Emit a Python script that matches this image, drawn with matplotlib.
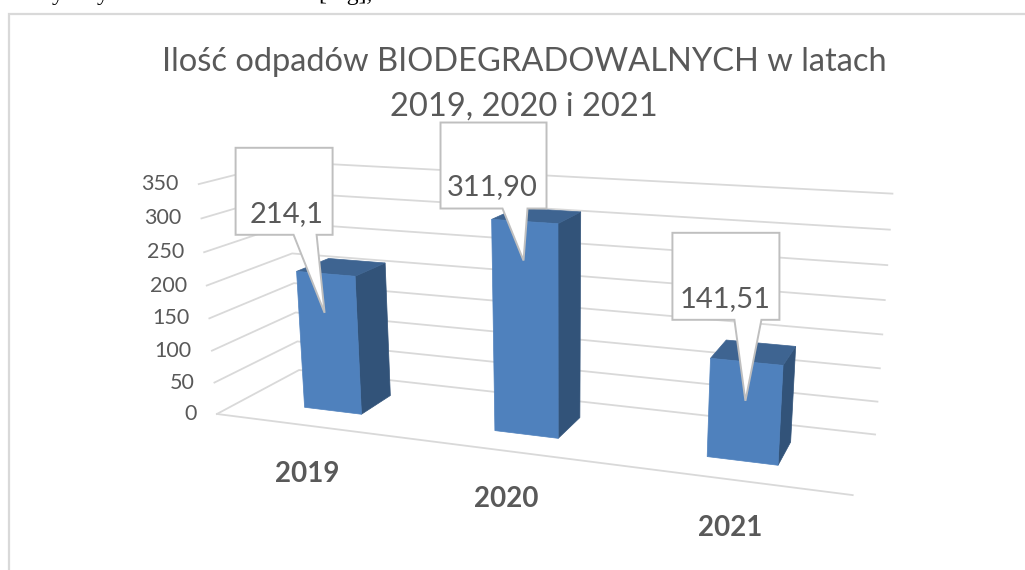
import matplotlib
matplotlib.use("Agg")
import matplotlib.pyplot as plt
from matplotlib.patches import Polygon
import numpy as np

plt.rcParams['font.family'] = ['Lato', 'DejaVu Sans']

categories = ["2019", "2020", "2021"]
values = [214.1, 311.90, 141.51]
value_labels = ["214,1", "311,90", "141,51"]
yticks = [0, 50, 100, 150, 200, 250, 300, 350]
title = "Ilość odpadów BIODEGRADOWALNYCH w latach\n2019, 2020 i 2021"

front_col = "#4F81BD"
top_col = "#3E6491"
side_col = "#325379"
grid_col = "#D9D9D9"
text_col = "#595959"
box_col = "#BFBFBF"

bar_w = 0.31
d0, d1 = 0.3, 0.7

# camera calibration: (category x, depth, value) -> pixel, seen on the reference
calib = [
    (0, 0, 0, 217, 414), (3, 0, 0, 853, 495), (0, 1, 0, 300, 370), (3, 1, 0, 875, 434),
    (0, 0, 350, 199, 184), (0, 1, 350, 285, 162), (3, 1, 350, 892, 193),
    (0.345, 0.3, 0, 304, 408), (0.655, 0.3, 0, 361, 414), (0.655, 0.7, 0, 390, 395),
    (1.345, 0.3, 0, 494, 431), (1.655, 0.3, 0, 558, 438), (1.655, 0.7, 0, 580, 417),
    (2.345, 0.3, 0, 707, 457), (2.655, 0.3, 0, 778, 465), (2.655, 0.7, 0, 791, 443),
    (0.345, 0.3, 214.1, 297, 271), (0.655, 0.7, 214.1, 387, 263),
    (1.345, 0.3, 311.9, 492, 219), (1.655, 0.7, 311.9, 581, 213),
    (2.345, 0.3, 141.51, 710, 358), (2.655, 0.7, 141.51, 796, 347),
]


def fit_camera(pts):
    A = []
    b = []
    for X, Y, Z, u, v in pts:
        A.append([X, Y, Z, 1, 0, 0, 0, 0, -u*X, -u*Y, -u*Z])
        b.append(u)
        A.append([0, 0, 0, 0, X, Y, Z, 1, -v*X, -v*Y, -v*Z])
        b.append(v)
    sol = np.linalg.lstsq(np.array(A, float), np.array(b, float), rcond=None)[0]
    return np.append(sol, 1).reshape(3, 4)


cam = fit_camera(calib)


def project(x, d, v):
    p = cam @ np.array([x, d, v, 1.0])
    return p[0]/p[2], p[1]/p[2]


fig = plt.figure(figsize=(10.25, 5.7), dpi=100)
ax = fig.add_axes([0, 0, 1, 1])
ax.set_xlim(0, 1025)
ax.set_ylim(570, 0)
ax.axis("off")

# chart frame, open at the right and bottom where the crop ends
ax.plot([8.5, 8.5, 1025], [570, 14, 14], color=grid_col, lw=1.6, solid_joinstyle="miter")

# piece of the document text above the chart, cut by the top edge
for tx, s in [(52, "y"), (97, "y"), (318, "[Mg],")]:
    ax.text(tx, 0, s, family="Liberation Serif", fontsize=17, color="black", va="baseline", ha="left")

ax.text(524, 84, title, ha="center", va="center", fontsize=23.5, color=text_col, linespacing=1.62)

# walls
for v in yticks:
    xs, ys = zip(project(0, 0, v), project(0, 1, v), project(3, 1, v))
    ax.plot(xs, ys, color=grid_col, lw=1.3, zorder=1)
    ax.text(xs[0]-20, ys[0], str(v), ha="right", va="center", fontsize=15.5, color=text_col)
xs, ys = zip(project(0, 0, 0), project(3, 0, 0))
ax.plot(xs, ys, color=grid_col, lw=1.3, zorder=1)

# bars
for i, val in enumerate(values):
    a = i+0.5-bar_w/2
    c = i+0.5+bar_w/2
    front = [project(a, d0, 0), project(c, d0, 0), project(c, d0, val), project(a, d0, val)]
    side = [project(c, d0, 0), project(c, d1, 0), project(c, d1, val), project(c, d0, val)]
    top = [project(a, d0, val), project(c, d0, val), project(c, d1, val), project(a, d1, val)]
    ax.add_patch(Polygon(side, fc=side_col, ec=side_col, lw=0.5, zorder=2))
    ax.add_patch(Polygon(top, fc=top_col, ec=top_col, lw=0.5, zorder=2))
    ax.add_patch(Polygon(front, fc=front_col, ec=front_col, lw=0.5, zorder=2))

# callouts, offsets from the tip: left, right, top, bottom, tail left, tail right
callouts = [(-89, 8, -165, -78, -31, -8), (-83, 23, -138, -52, -21, 4), (-73, 34, -168, -81, -11, 16)]
for i, val in enumerate(values):
    px, py = project(i+0.5, d0, val)
    tx, ty = px-1, py+39
    l, r, t, b, tl, tr = callouts[i]
    outline = [(tx+l, ty+t), (tx+r, ty+t), (tx+r, ty+b), (tx+tr, ty+b), (tx, ty), (tx+tl, ty+b), (tx+l, ty+b)]
    ax.add_patch(Polygon(outline, closed=True, fc="white", ec=box_col, lw=1.4, zorder=3, joinstyle="miter"))
    ax.text(tx+r-9, ty+b-21, value_labels[i], ha="right", va="center", fontsize=21, color=text_col, zorder=4)

# category labels
for i, name in enumerate(categories):
    px, py = project(i+0.5, 0, 0)
    ax.text(px-1, py+48, name, ha="center", va="center", fontsize=20, fontweight="bold", color=text_col)

fig.savefig("out.png", dpi=100)
